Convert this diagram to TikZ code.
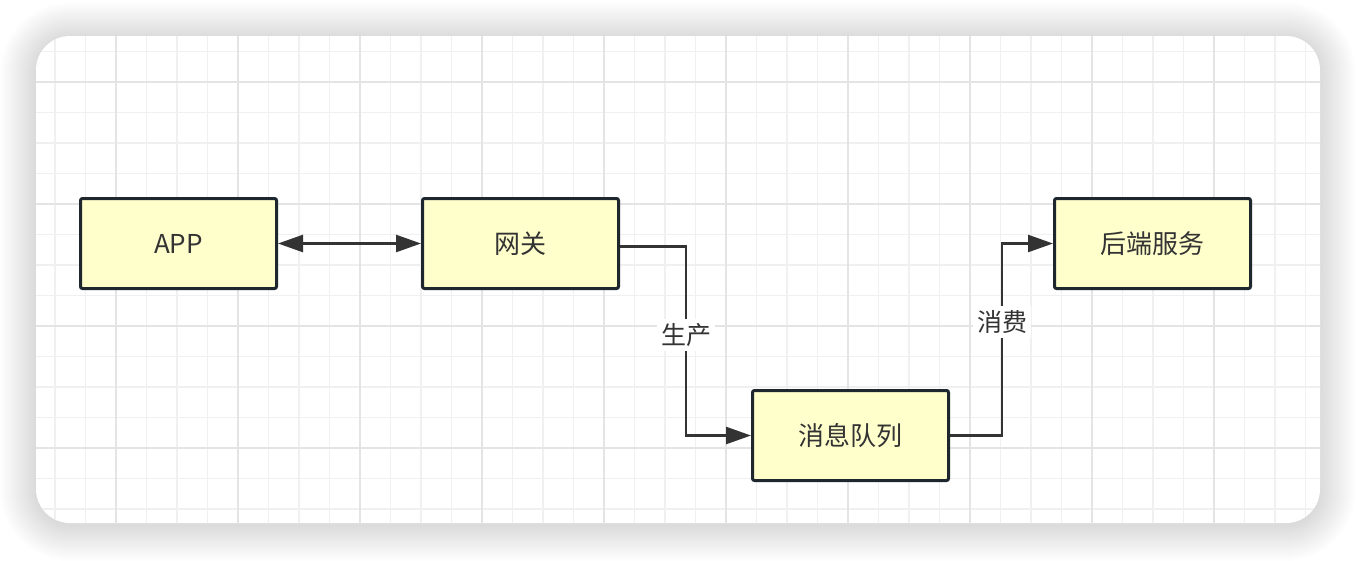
\documentclass[tikz,border=0pt]{standalone}
\usepackage{fontspec}
\setmainfont{Noto Sans CJK SC}
\usetikzlibrary{arrows.meta}
\definecolor{boxfill}{HTML}{FFFFCC}
\definecolor{boxline}{HTML}{1E272E}
\definecolor{connc}{HTML}{333333}
\definecolor{gridminor}{HTML}{F0F0F0}
\definecolor{gridmajor}{HTML}{E4E4E4}
\tikzset{
  stepbox/.style={draw=boxline, fill=boxfill, line width=3pt, rounded corners=2pt,
    minimum width=196pt, minimum height=90pt, text=connc,
    font=\fontsize{26pt}{30pt}\selectfont},
  conn/.style={draw=connc, line width=2.5pt, arrows={-Triangle[length=25pt,width=17pt]}},
  conn2/.style={draw=connc, line width=2.5pt, arrows={Triangle[length=25pt,width=17pt]-Triangle[length=25pt,width=17pt]}},
  lbl/.style={fill=white, text=connc, inner sep=4pt, font=\fontsize{25pt}{28pt}\selectfont},
}
\begin{document}
\begin{tikzpicture}[x=1pt,y=-1pt]
\useasboundingbox (0,0) rectangle (1356,560);
\fill[white] (0,0) rectangle (1356,560);
% shadow
\foreach \i in {1,...,36}{
  \fill[black, opacity=0.004, rounded corners={34pt+\i pt}] (36-\i,38-\i) rectangle (1320+\i,525+\i);
}
% card
\fill[white, rounded corners=34pt] (36,36) rectangle (1320,523);
\begin{scope}
\clip[rounded corners=34pt] (36,36) rectangle (1320,523);
\foreach \k [evaluate=\k as \xx using 55+\k*30.5] in {0,...,42}
  \draw[gridminor, line width=1.6pt] (\xx,30) -- (\xx,530);
\foreach \k [evaluate=\k as \yy using 51.5+\k*30.5] in {0,...,15}
  \draw[gridminor, line width=1.6pt] (30,\yy) -- (1330,\yy);
\foreach \k [evaluate=\k as \xx using 116+\k*122] in {0,...,9}
  \draw[gridmajor, line width=2pt] (\xx,30) -- (\xx,530);
\foreach \k [evaluate=\k as \yy using 82+\k*122] in {0,...,3}
  \draw[gridmajor, line width=2pt] (30,\yy) -- (1330,\yy);
\end{scope}
% nodes
\node[stepbox] (app) at (178.5,243.5) {APP};
\node[stepbox] (gw) at (520.5,243.5) {网关};
\node[stepbox] (mq) at (850.5,435.5) {消息队列};
\node[stepbox] (be) at (1152.5,243.5) {后端服务};
% connectors
\draw[conn2] (app) -- (gw);
\draw[conn] ([yshift=-3pt]gw.east) -- ++(66,0) coordinate (c1) |- (mq.west);
\draw[conn] (mq.east) -- ++(52,0) coordinate (c2) |- (be.west);
\node[lbl] (l1) at (686,335) {生产};
\node[lbl] (l2) at (1002,322) {消费};
\end{tikzpicture}
\end{document}
